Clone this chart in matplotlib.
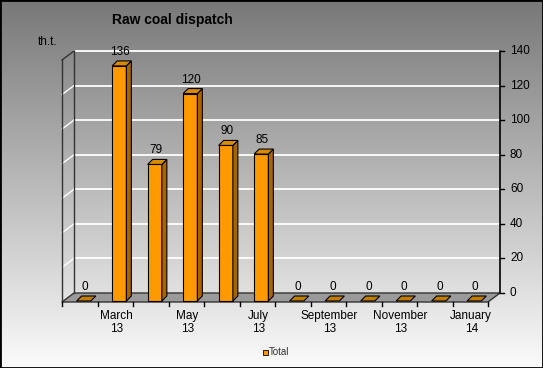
import numpy as np
import matplotlib
matplotlib.use('Agg')
import matplotlib.pyplot as plt
from matplotlib.patches import Polygon, Rectangle
from matplotlib.lines import Line2D
from matplotlib.transforms import IdentityTransform
from matplotlib.colors import LinearSegmentedColormap

# data
months = ['February\n13', 'March\n13', 'April\n13', 'May\n13', 'June\n13', 'July\n13',
          'August\n13', 'September\n13', 'October\n13', 'November\n13', 'December\n13', 'January\n14']
values = [0, 136, 79, 120, 90, 85, 0, 0, 0, 0, 0, 0]
y_ticks = [0, 20, 40, 60, 80, 100, 120, 140]

# 3d look (pixels)
DX, DY = 12, 9          # depth of the box
BAR_W = 0.4             # bar width in slots
OFF = (4, 1)            # shift of bar front face
DEP = (5, 5)            # bar depth

plt.rcParams['font.family'] = ['Liberation Sans', 'DejaVu Sans']

fig = plt.figure(figsize=(5.43, 3.68), dpi=100)

# gradient background
bg = fig.add_axes([0, 0, 1, 1])
bg.axis('off')
grad = np.linspace(0, 1, 256).reshape(-1, 1)
cmap = LinearSegmentedColormap.from_list('g', ['#787878', '#fbfbfb'])
bg.imshow(grad, cmap=cmap, aspect='auto', extent=[0, 1, 0, 1])

ax = fig.add_axes([62 / 543, 66 / 368, 426 / 543, 242 / 368])
ax.set_xlim(0, len(values))
ax.set_ylim(0, 140)
ax.axis('off')

ident = IdentityTransform()


def pt(x, y, dx=0, dy=0):
    X, Y = ax.transData.transform((x, y))
    return (X + dx, Y + dy)


def poly(points, **kw):
    p = Polygon(points, closed=True, transform=ident, clip_on=False, **kw)
    ax.add_patch(p)


def line(a, b, **kw):
    ax.add_line(Line2D([a[0], b[0]], [a[1], b[1]], transform=ident, clip_on=False, **kw))


n = len(values)
top = y_ticks[-1]

# floor
poly([pt(0, 0), pt(n, 0), pt(n, 0, DX, DY), pt(0, 0, DX, DY)],
     fc='#9a9a9a', ec='#333333', lw=1, zorder=1)

# walls and grid
for v in y_ticks[1:]:
    line(pt(0, v, DX, DY), pt(n, v, DX, DY), color='white', lw=1.3, zorder=1)
    line(pt(0, v), pt(0, v, DX, DY), color='#333333' if v == top else 'white', lw=1, zorder=1)
line(pt(0, 0), pt(0, top), color='#333333', lw=1, zorder=2)
line(pt(0, 0, DX, DY), pt(0, top, DX, DY), color='#333333', lw=1, zorder=2)

# right value axis
line(pt(n, 0, DX, DY), pt(n, top, DX, DY), color='black', lw=1.2, zorder=2)
for v in y_ticks:
    a = pt(n, v, DX, DY)
    line(a, (a[0] + 4, a[1]), color='black', lw=1, zorder=2)
    ax.text(a[0] + 10, a[1], str(v), transform=ident, ha='left', va='center', fontsize=8.5)

# x ticks and labels
for k in range(n + 1):
    a = pt(k, 0)
    line(a, (a[0], a[1] - 4), color='black', lw=1, zorder=2)
for i, lbl in enumerate(months):
    if i % 2 == 1:
        ax.annotate(lbl, xy=(i + 0.5, 0), xytext=(1, -8), textcoords='offset pixels',
                    ha='center', va='top', fontsize=8.5, linespacing=1.1)

# bars
for i, v in enumerate(values):
    x0, x1 = i + 0.5 - BAR_W / 2, i + 0.5 + BAR_W / 2
    b = (OFF[0] + DEP[0], OFF[1] + DEP[1])
    if v > 0:
        poly([pt(x0, 0, *OFF), pt(x1, 0, *OFF), pt(x1, v, *OFF), pt(x0, v, *OFF)],
             fc='#ff9900', ec='black', lw=0.8, zorder=3)
        poly([pt(x1, 0, *OFF), pt(x1, 0, *b), pt(x1, v, *b), pt(x1, v, *OFF)],
             fc='#a86400', ec='black', lw=0.8, zorder=3)
    poly([pt(x0, v, *OFF), pt(x1, v, *OFF), pt(x1, v, *b), pt(x0, v, *b)],
         fc='#d88a00' if v > 0 else '#c07d00', ec='black', lw=0.8, zorder=3)
    ax.annotate(str(v), xy=(i + 0.5, v), xytext=(5, 9), textcoords='offset pixels',
                ha='center', va='bottom', fontsize=8.5)

# titles
fig.text(172 / 543, 1 - 20 / 368, 'Raw coal dispatch', ha='center', va='center',
         fontsize=10, fontweight='bold')
fig.text(38 / 543, 1 - 42 / 368, 'th.t.', ha='left', va='center', fontsize=8.5)

# legend
fig.patches.append(Rectangle((263 / 543, 1 - 355 / 368), 5 / 543, 5 / 368, transform=fig.transFigure,
                             fc='#ff9900', ec='black', lw=0.6))
fig.text(269 / 543, 1 - 352 / 368, 'Total', ha='left', va='center', fontsize=7, color='#333333')

# border
fig.patches.append(Rectangle((0, 0), 1, 1, transform=fig.transFigure, fill=False, ec='black', lw=2))

fig.savefig('out.png', dpi=100)
